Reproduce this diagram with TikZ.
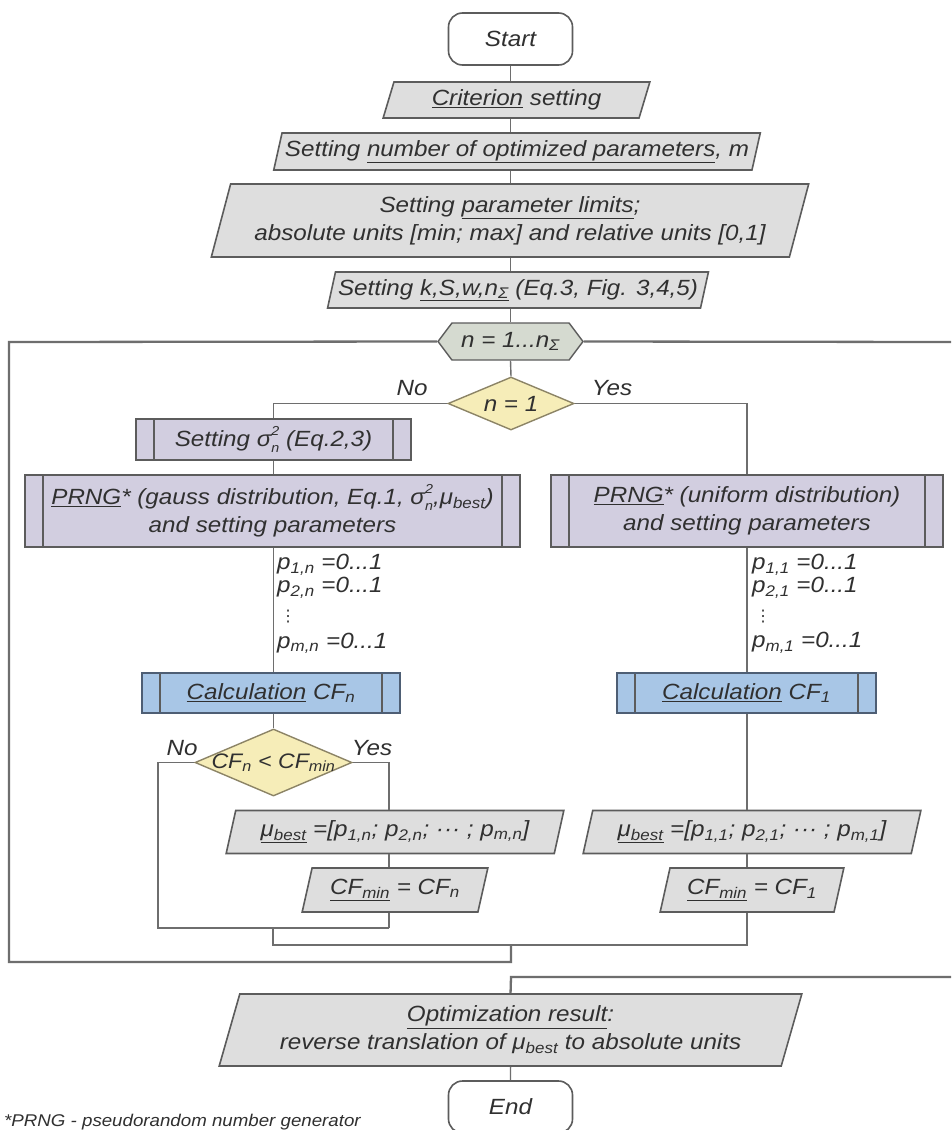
\documentclass[tikz,border=0pt]{standalone}
\usepackage{fontspec}
\setmainfont{Liberation Sans}[FakeStretch=1.1]
\newfontfamily\symfont{DejaVu Sans}
\usetikzlibrary{shapes.geometric,shapes.symbols,calc}
\definecolor{linecol}{HTML}{6E6E6E}
\definecolor{bordcol}{HTML}{5C5C5C}
\definecolor{txtcol}{HTML}{303030}
\definecolor{grayfill}{HTML}{DEDEDE}
\definecolor{purpfill}{HTML}{D2CEE0}
\definecolor{bluefill}{HTML}{A8C6E6}
\definecolor{bluebord}{HTML}{4E5E74}
\definecolor{yelfill}{HTML}{F6EDB8}
\definecolor{yelbord}{HTML}{8C8466}
\definecolor{hexfill}{HTML}{D5DAD0}
\newcommand{\uln}[1]{\underline{#1}}
\newcommand{\sbs}[1]{\textsubscript{#1}}
\newcommand{\sigsq}{σ\rlap{\raisebox{0.5em}{\fontsize{13}{14}\selectfont 2}}\raisebox{-0.28em}{\fontsize{13}{14}\selectfont n}}
\tikzset{
  every node/.style={font=\itshape\fontsize{22}{28}\selectfont, text=txtcol},
  para/.style={trapezium, trapezium left angle=70, trapezium right angle=110,
    trapezium stretches=true, draw=bordcol, line width=1.6pt, fill=grayfill,
    inner sep=0pt, align=center},
  term/.style={rectangle, rounded corners=14pt, draw=bordcol, line width=1.6pt,
    fill=white, minimum width=124pt, minimum height=52pt},
  procbox/.style={rectangle, draw=bordcol, line width=1.6pt, fill=purpfill,
    inner sep=0pt, align=center,
    path picture={\draw[line width=1.4pt, draw=bordcol]
      ([xshift=18pt]path picture bounding box.north west) --
      ([xshift=18pt]path picture bounding box.south west)
      ([xshift=-18pt]path picture bounding box.north east) --
      ([xshift=-18pt]path picture bounding box.south east);}},
  calcbox/.style={procbox, fill=bluefill, draw=bluebord},
  decision/.style={diamond, draw=yelbord, fill=yelfill, line width=1.4pt, inner sep=0pt},
  loophex/.style={signal, signal to=west and east, signal pointer angle=106,
    draw=bordcol, fill=hexfill, line width=1.4pt, inner sep=0pt},
  flow/.style={draw=linecol, line width=1.4pt},
  loopline/.style={draw=linecol, line width=2.3pt},
  lbl/.style={inner sep=0pt},
  plbl/.style={inner sep=0pt, anchor=west},
  dotlbl/.style={inner sep=0pt, anchor=west, font=\symfont\fontsize{16}{18}\selectfont}
}
\begin{document}
\begin{tikzpicture}[x=1pt, y=-1pt]
\useasboundingbox (0,0) rectangle (951,1130);
\clip (0,0) rectangle (951,1130);
\fill[white] (0,0) rectangle (951,1130);

% main column
\node[term] (start) at (510.5,39) {Start};
\node[para, minimum width=267pt, minimum height=36pt] (crit) at (516.5,100) {\uln{Criterion} setting};
\node[para, minimum width=488pt, minimum height=37pt] (num) at (517,151.5) {Setting \uln{number of optimized parameters}, m};
\node[para, minimum width=602pt, minimum height=73pt] (lim) at (510,220.5) {Setting \uln{parameter limits};\\absolute units [min; max] and relative units [0,1]};
\node[para, minimum width=382pt, minimum height=36pt] (ksw) at (518,290) {Setting \uln{k,S,w,n\sbs{Σ}} (Eq.3, Fig. 3,4,5)};
\node[loophex, minimum width=145pt, minimum height=37pt] (hex) at (510.5,341.5) {n = 1...n\sbs{Σ}};
\node[decision, minimum width=126pt, minimum height=53pt] (d1) at (511,403.5) {\makebox[0pt]{n = 1}};
\node[lbl] (no1) at (412,388) {No};
\node[lbl] (yes1) at (612,388) {Yes};

% left branch
\node[procbox, minimum width=275pt, minimum height=41pt] (sig) at (273.5,439.5) {Setting \sigsq{} (Eq.2,3)};
\node[procbox, minimum width=495pt, minimum height=72pt] (prngL) at (272.5,511) {\uln{PRNG}* (gauss distribution, Eq.1, \sigsq,μ\sbs{best})\\and setting parameters};
\node[plbl] (p1n) at (277,565) {p\sbs{1,n} =0...1};
\node[plbl] (p2n) at (277,588) {p\sbs{2,n} =0...1};
\node[dotlbl] (pdn) at (280,617) {⋮};
\node[plbl] (pmn) at (277,643) {p\sbs{m,n} =0...1};
\node[calcbox, minimum width=258pt, minimum height=40pt] (calcL) at (271,693) {\uln{Calculation} CF\sbs{n}};
\node[decision, minimum width=157pt, minimum height=67pt] (d2) at (273.5,762.5) {\makebox[0pt]{\fontsize{21}{26}\selectfont CF\sbs{n} < CF\sbs{min}}};
\node[lbl] (no2) at (182,748) {No};
\node[lbl] (yes2) at (372,748) {Yes};
\node[para, minimum width=338pt, minimum height=43pt] (muL) at (395,832) {\uln{μ\sbs{best}} =[p\sbs{1,n}; p\sbs{2,n}; ··· ; p\sbs{m,n}]};
\node[para, minimum width=186pt, minimum height=44pt] (cfL) at (395,890) {\uln{CF\sbs{min}} = CF\sbs{n}};

% right branch
\node[procbox, minimum width=392pt, minimum height=72pt] (prngR) at (747,511) {\uln{PRNG}* (uniform distribution)\\and setting parameters};
\node[plbl] (p11) at (752,565) {p\sbs{1,1} =0...1};
\node[plbl] (p21) at (752,588) {p\sbs{2,1} =0...1};
\node[dotlbl] (pd1) at (755,617) {⋮};
\node[plbl] (pm1) at (752,643) {p\sbs{m,1} =0...1};
\node[calcbox, minimum width=259pt, minimum height=40pt] (calcR) at (746.5,693) {\uln{Calculation} CF\sbs{1}};
\node[para, minimum width=338pt, minimum height=43pt] (muR) at (752,832) {\uln{μ\sbs{best}} =[p\sbs{1,1}; p\sbs{2,1}; ··· ; p\sbs{m,1}]};
\node[para, minimum width=184pt, minimum height=44pt] (cfR) at (752,890) {\uln{CF\sbs{min}} = CF\sbs{1}};

% end
\node[para, minimum width=587pt, minimum height=72pt] (opt) at (510.5,1030) {\uln{Optimization result}:\\reverse translation of μ\sbs{best} to absolute units};
\node[term] (end) at (510.5,1107) {End};
\node[anchor=west, inner sep=0pt, font=\itshape\fontsize{17}{20}\selectfont] (foot) at (4,1122) {*PRNG - pseudorandom number generator};

% coordinates
\coordinate (lt) at (9,342);
\coordinate (lb) at (9,962);
\coordinate (mb) at (511,962);
\coordinate (mj) at (511,945);
\coordinate (jl) at (273,945);
\coordinate (jr) at (747,945);
\coordinate (bl) at (273,928);
\coordinate (noc) at (158,928);
\coordinate (yesc) at (389,928);
\coordinate (rexit) at (951,342);
\coordinate (rin) at (951,977);
\coordinate (oin) at (511,977);

% connectors
\draw[flow] (start.south) -- (start.south |- crit.north);
\draw[flow] (start |- crit.south) -- (start |- num.north);
\draw[flow] (start |- num.south) -- (start |- lim.north);
\draw[flow] (start |- lim.south) -- (start |- ksw.north);
\draw[flow] (start |- ksw.south) -- (hex.north);
\draw[flow] (hex.south) -- (d1.north);
\draw[flow] (d1.west) -| (sig.north);
\draw[flow] (d1.east) -| (prngR.north);
\draw[flow] (sig.south) -- (sig.south |- prngL.north);
\draw[flow] (prngL.south -| sig) -- (calcL.north -| sig);
\draw[flow] (calcL.south -| sig) -- (d2.north);
\draw[flow] (d2.west) -| (noc) -- (yesc);
\draw[flow] (d2.east) -| (muL.north -| yesc);
\draw[flow] (muL.south -| yesc) -- (cfL.north -| yesc);
\draw[flow] (cfL.south -| yesc) -- (yesc);
\draw[flow] (bl) -- (jl) -- (jr) -- (cfR.south -| jr);
\draw[flow] (prngR.south) -- (calcR.north -| prngR);
\draw[flow] (calcR.south -| prngR) -- (muR.north -| prngR);
\draw[flow] (muR.south -| prngR) -- (cfR.north -| prngR);
\draw[loopline] (mj) -- (mb) -- (lb) -- (lt) -- (hex.west);
\draw[loopline] (hex.east) -- (rexit);
\draw[loopline] (rin) -- (oin) -- (opt.north);
\draw[flow] (opt.south) -- (end.north);
\end{tikzpicture}
\end{document}
